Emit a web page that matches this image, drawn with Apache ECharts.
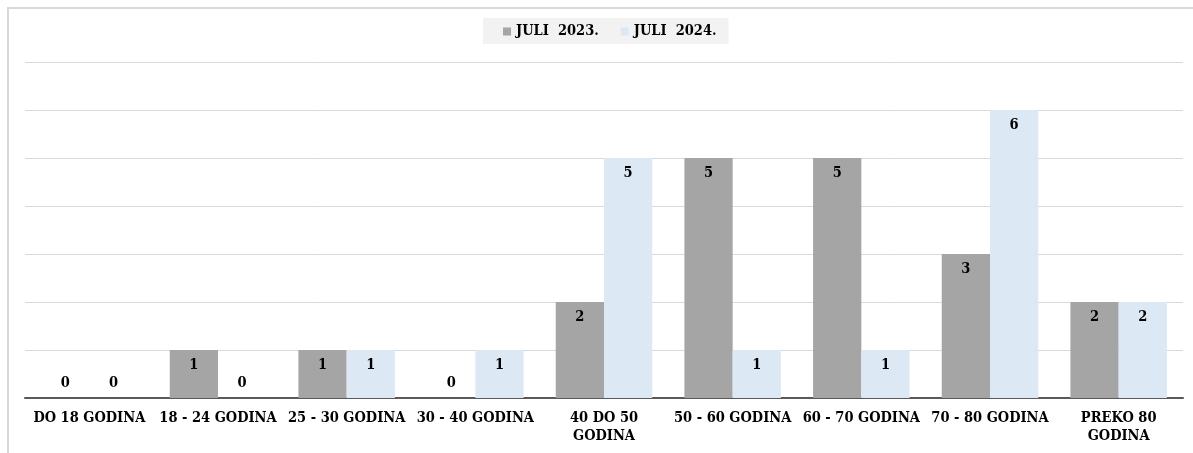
<!DOCTYPE html>
<html>
<head>
<meta charset="utf-8">
<script src="https://cdn.jsdelivr.net/npm/echarts@6/dist/echarts.min.js"></script>
<style>
html,body{margin:0;padding:0;background:#fff;overflow:hidden;}
#chart{width:1193px;height:453px;}
#frame{position:absolute;left:7px;top:7px;width:1300px;height:600px;border-left:2px solid #d9d9d9;border-top:2px solid #d9d9d9;pointer-events:none;}
</style>
</head>
<body>
<div id="chart"></div>
<div id="frame"></div>
<script>
const categories = ['DO 18 GODINA', '18 - 24 GODINA', '25 - 30 GODINA', '30 - 40 GODINA', '40 DO 50\nGODINA', '50 - 60 GODINA', '60 - 70 GODINA', '70 - 80 GODINA', 'PREKO 80\nGODINA'];
const seriesNames = ['JULI  2023.', 'JULI  2024.'];
const values2023 = [0, 1, 1, 0, 2, 5, 5, 3, 2];
const values2024 = [0, 0, 1, 1, 5, 1, 1, 6, 2];

const FONT = "'DejaVu Serif Condensed', 'DejaVu Serif', serif";
const FS = 14.5;

function withLabels(vals) {
  return vals.map(v => v === 0
    ? { value: v, label: { position: 'top', distance: 7 } }
    : { value: v });
}

const chart = echarts.init(document.getElementById('chart'));
chart.setOption({
  animation: false,
  textStyle: { fontFamily: FONT },
  legend: {
    top: 18,
    left: 483,
    itemWidth: 8,
    itemHeight: 8,
    itemGap: 22,
    padding: [6, 12, 5, 20],
    backgroundColor: '#f2f2f2',
    textStyle: { fontFamily: FONT, fontWeight: 'bold', fontSize: FS, color: '#000' },
    data: seriesNames.map(n => ({ name: n, icon: 'rect' }))
  },
  grid: { left: 25, right: 10, top: 62, bottom: 55, containLabel: false },
  xAxis: {
    type: 'category',
    data: categories,
    axisLine: { lineStyle: { color: '#595959', width: 2 } },
    axisTick: { show: false },
    axisLabel: { fontFamily: FONT, fontWeight: 'bold', fontSize: FS, color: '#000', margin: 11, lineHeight: 18, interval: 0 }
  },
  yAxis: {
    type: 'value',
    min: 0, max: 7, interval: 1,
    axisLabel: { show: false },
    axisLine: { show: false },
    axisTick: { show: false },
    splitLine: { lineStyle: { color: '#d9d9d9', width: 1 } }
  },
  series: [
    {
      name: seriesNames[0], type: 'bar', data: withLabels(values2023),
      barGap: '0%', barCategoryGap: '25%',
      itemStyle: { color: '#a5a5a5' },
      label: { show: true, position: 'insideTop', distance: 8, fontFamily: FONT, fontWeight: 'bold', fontSize: FS, color: '#000' }
    },
    {
      name: seriesNames[1], type: 'bar', data: withLabels(values2024),
      barGap: '0%', barCategoryGap: '25%',
      itemStyle: { color: '#dde8f5' },
      label: { show: true, position: 'insideTop', distance: 8, fontFamily: FONT, fontWeight: 'bold', fontSize: FS, color: '#000' }
    }
  ]
});
</script>
</body>
</html>
